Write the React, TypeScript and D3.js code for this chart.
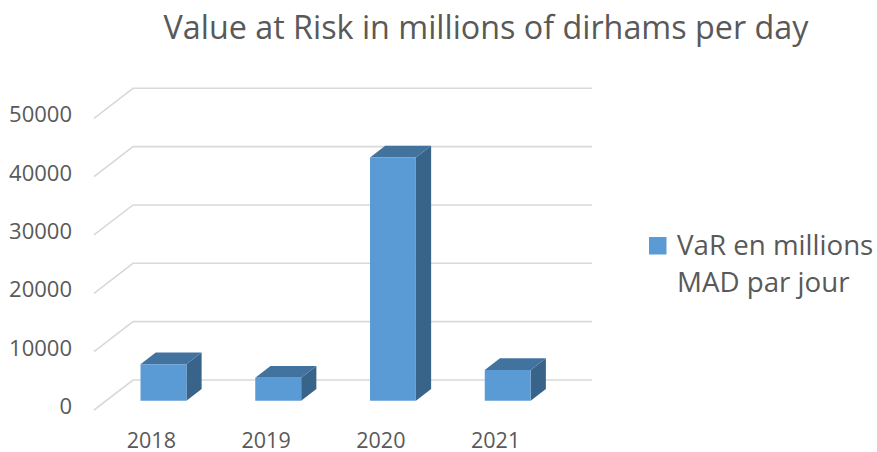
import React from "react";
import * as d3 from "d3";

const title = "Value at Risk in millions of dirhams per day";
const categories = ["2018", "2019", "2020", "2021"];
const values = [6250, 3950, 41700, 5250];
const yTicks = [0, 10000, 20000, 30000, 40000, 50000];
const legendLines = ["VaR en millions", "MAD par jour"];

const W = 877;
const H = 452;
// oblique 3D frame
const backX0 = 133;
const backW = 459;
const backY0 = 380;
const depthDX = -39;
const depthDY = 30;
const barBackD = 0.3;
const barFrontD = 0.69;

const FONT = "'Open Sans', 'Noto Sans', sans-serif";
const TEXT = "#595959";

export default function App() {
  const y = d3.scaleLinear().domain([0, 50000]).range([0, 291.7]);
  const x = d3
    .scaleBand<string>()
    .domain(categories)
    .range([0, backW])
    .paddingInner(0.6)
    .paddingOuter(0.3);

  const P = (px: number, v: number, d: number): [number, number] => [
    backX0 + px + depthDX * d,
    backY0 + depthDY * d - y(v),
  ];
  const poly = (pts: [number, number][]) =>
    pts.map((p) => p.join(",")).join(" ");

  return (
    <svg
      width={W}
      height={H}
      style={{ position: "absolute", left: 0, top: 0, background: "#fff" }}
    >
      <text
        x={486}
        y={38.5}
        textAnchor="middle"
        fontFamily={FONT}
        fontSize={32.3}
        fill={TEXT}
      >
        {title}
      </text>

      {/* gridlines */}
      <g stroke="#D9D9D9" strokeWidth={1.6} fill="none">
        {yTicks.map((t) => {
          const a = P(0, t, 1);
          const b = P(0, t, 0);
          const c = P(backW, t, 0);
          return <polyline key={t} points={poly([a, b, c])} />;
        })}
      </g>

      {/* y tick labels */}
      {yTicks.map((t) => {
        const [px, py] = P(0, t, 1);
        return (
          <text
            key={t}
            x={px - 22}
            y={py - 2}
            textAnchor="end"
            dominantBaseline="middle"
            fontFamily={FONT}
            fontSize={22}
            fill={TEXT}
          >
            {t}
          </text>
        );
      })}

      {/* bars */}
      {categories.map((c, i) => {
        const x0 = x(c)!;
        const x1 = x0 + x.bandwidth();
        const v = values[i];
        const front = [
          P(x0, 0, barFrontD),
          P(x1, 0, barFrontD),
          P(x1, v, barFrontD),
          P(x0, v, barFrontD),
        ] as [number, number][];
        const top = [
          P(x0, v, barFrontD),
          P(x1, v, barFrontD),
          P(x1, v, barBackD),
          P(x0, v, barBackD),
        ] as [number, number][];
        const side = [
          P(x1, 0, barFrontD),
          P(x1, 0, barBackD),
          P(x1, v, barBackD),
          P(x1, v, barFrontD),
        ] as [number, number][];
        return (
          <g key={c}>
            <polygon points={poly(side)} fill="#386489" />
            <polygon points={poly(top)} fill="#42739F" />
            <polygon points={poly(front)} fill="#5B9BD5" />
          </g>
        );
      })}

      {/* category labels */}
      {categories.map((c) => {
        const [px] = P(x(c)! + x.bandwidth() / 2, 0, 1);
        return (
          <text
            key={c}
            x={px}
            y={447.5}
            textAnchor="middle"
            fontFamily={FONT}
            fontSize={21.5}
            fill={TEXT}
          >
            {c}
          </text>
        );
      })}

      {/* legend */}
      <rect x={649} y={237} width={17.5} height={17.5} fill="#5B9BD5" />
      {legendLines.map((l, i) => (
        <text
          key={l}
          x={677}
          y={255 + i * 36.5}
          fontFamily={FONT}
          fontSize={27.7}
          fill={TEXT}
        >
          {l}
        </text>
      ))}
    </svg>
  );
}
